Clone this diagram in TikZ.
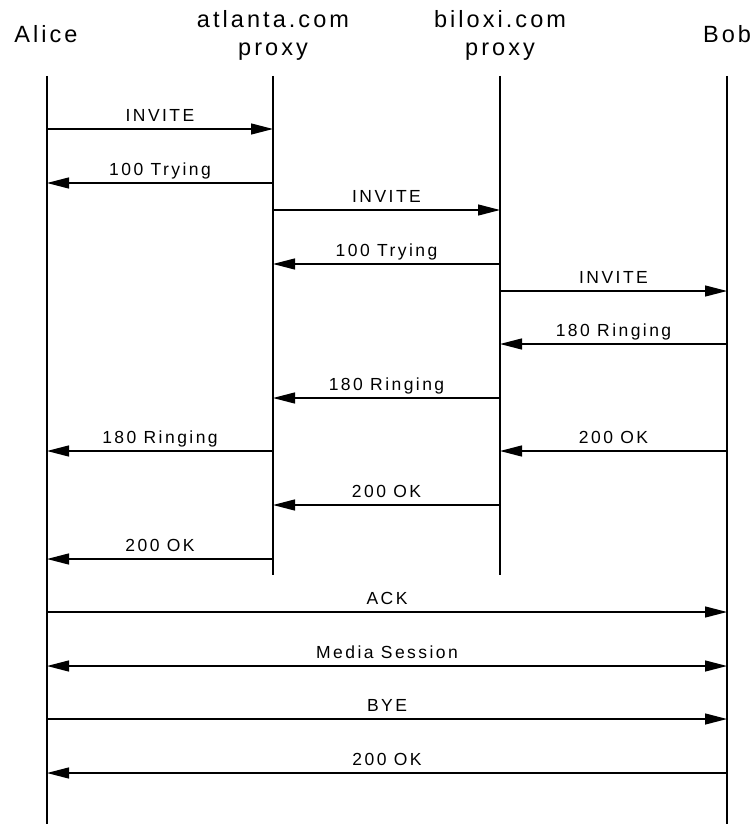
\documentclass[tikz,border=0pt]{standalone}
\usepackage{fontspec}
\setmainfont{Liberation Sans}[LetterSpace=14]
\newfontfamily\headfont{Liberation Sans}[LetterSpace=13]
\usetikzlibrary{arrows.meta}
\begin{document}
\begin{tikzpicture}[x=1pt,y=-1pt,
  life/.style={line width=1.3pt},
  msg/.style={line width=1.3pt,-{Triangle[length=22pt,width=11pt]}},
  bimsg/.style={line width=1.3pt,{Triangle[length=22pt,width=11pt]}-{Triangle[length=22pt,width=11pt]}},
  lbl/.style={midway,anchor=base,yshift=7.5pt,inner sep=0pt,font=\fontsize{17.5}{20}\selectfont},
  head/.style={anchor=base,inner sep=0pt,font=\headfont\fontsize{23.5}{28}\selectfont}]
\useasboundingbox (0,0) rectangle (753,824);
% lifeline ends
\coordinate (At) at (47,76);   \coordinate (Ab) at (47,824);
\coordinate (Pt) at (273,76);  \coordinate (Pb) at (273,575);
\coordinate (Qt) at (500,76);  \coordinate (Qb) at (500,575);
\coordinate (Bt) at (727,76);  \coordinate (Bb) at (727,824);
% headers
\node[head] (hA) at (46,43) {Alice};
\node[head] (hP1) at (273,27.5) {atlanta.com};
\node[head] (hP2) at (273,55.5) {proxy};
\node[head] (hQ1) at (500,27.5) {biloxi.com};
\node[head] (hQ2) at (500,55.5) {proxy};
\node[head] (hB) at (727,43) {Bob};
% lifelines
\draw[life] (At) -- (Ab);
\draw[life] (Pt) -- (Pb);
\draw[life] (Qt) -- (Qb);
\draw[life] (Bt) -- (Bb);
% messages
\newcommand{\sipmsg}[5][msg]{\draw[#1] (#2 |- 0,#4) -- node[lbl]{#5} (#3 |- 0,#4);}
\sipmsg{At}{Pt}{129}{INVITE}
\sipmsg{Pt}{At}{183}{100 Trying}
\sipmsg{Pt}{Qt}{210}{INVITE}
\sipmsg{Qt}{Pt}{264}{100 Trying}
\sipmsg{Qt}{Bt}{291}{INVITE}
\sipmsg{Bt}{Qt}{344}{180 Ringing}
\sipmsg{Qt}{Pt}{398}{180 Ringing}
\sipmsg{Pt}{At}{451}{180 Ringing}
\sipmsg{Bt}{Qt}{451}{200 OK}
\sipmsg{Qt}{Pt}{505}{200 OK}
\sipmsg{Pt}{At}{559}{200 OK}
\sipmsg{At}{Bt}{612}{ACK}
\sipmsg[bimsg]{At}{Bt}{666}{Media Session}
\sipmsg{At}{Bt}{719}{BYE}
\sipmsg{Bt}{At}{773}{200 OK}
\end{tikzpicture}
\end{document}
